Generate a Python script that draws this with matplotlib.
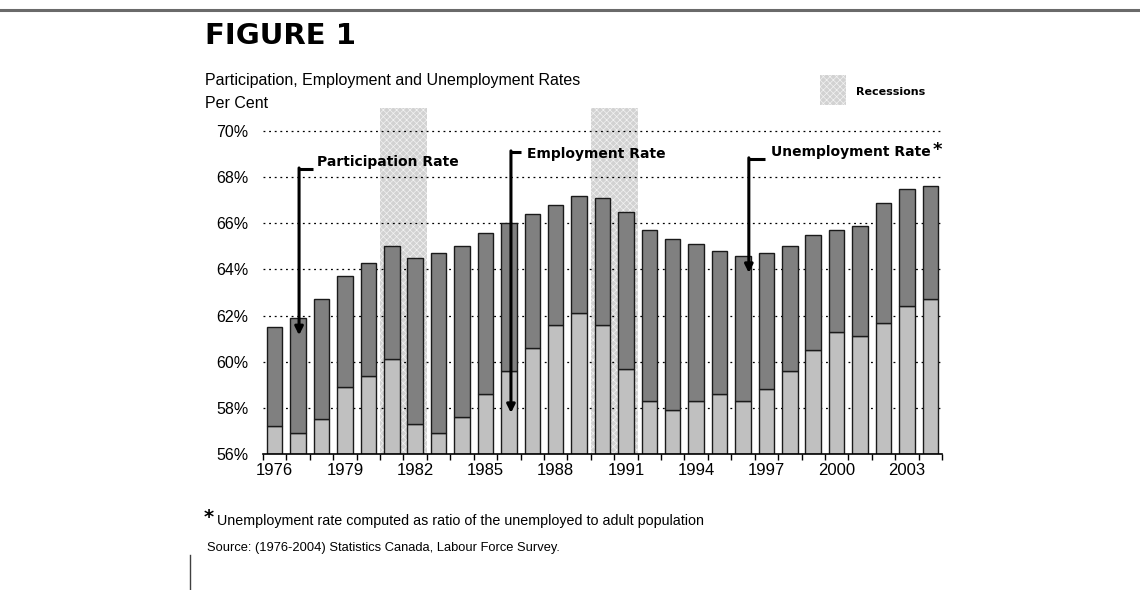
import matplotlib
matplotlib.use("Agg")
import matplotlib.pyplot as plt
from matplotlib.patches import Rectangle
from matplotlib.lines import Line2D

# ---- data ----
years = list(range(1976, 2005))
participation = [61.5, 61.9, 62.7, 63.7, 64.3, 65.0, 64.5, 64.7, 65.0, 65.6,
                 66.0, 66.4, 66.8, 67.2, 67.1, 66.5, 65.7, 65.3, 65.1, 64.8,
                 64.6, 64.7, 65.0, 65.5, 65.7, 65.9, 66.9, 67.5, 67.6]
employment = [57.2, 56.9, 57.5, 58.9, 59.4, 60.1, 57.3, 56.9, 57.6, 58.6,
              59.6, 60.6, 61.6, 62.1, 61.6, 59.7, 58.3, 57.9, 58.3, 58.6,
              58.3, 58.8, 59.6, 60.5, 61.3, 61.1, 61.7, 62.4, 62.7]
recessions = [(1981, 1982), (1990, 1991)]
y_ticks = [56, 58, 60, 62, 64, 66, 68, 70]
label_years = list(range(1976, 2004, 3))

plt.rcParams['hatch.linewidth'] = 0.5
AR = "Liberation Sans"
BOLD = "DejaVu Sans"

fig = plt.figure(figsize=(11.4, 5.9), dpi=100)
ax = fig.add_axes([263/1140, 1-454/590, (942-263)/1140, (454-108)/590])

idx = list(range(len(years)))
base = 56
shade_fc = "#d2d2d2"
shade_hc = "#f2f2f2"

# recession bands
for a, b in recessions:
    ax.axvspan(years.index(a) - 0.5, years.index(b) + 0.5, facecolor=shade_fc,
               edgecolor=shade_hc, hatch="xxxxx", lw=0, zorder=0)

# grid
for t in y_ticks[1:]:
    ax.axhline(t, color="black", lw=0.9, ls=(0, (1.5, 3)), zorder=1)

# bars
emp_h = [e - base for e in employment]
gap_h = [p - e for p, e in zip(participation, employment)]
ax.bar(idx, emp_h, bottom=base, width=0.66, color="#c0c0c0",
       edgecolor="#1a1a1a", lw=1.0, zorder=2)
ax.bar(idx, gap_h, bottom=employment, width=0.66, color="#808080",
       edgecolor="#1a1a1a", lw=1.0, zorder=2)

ax.set_xlim(-0.5, len(years) - 0.5)
ax.set_ylim(56, 71)
ax.set_yticks(y_ticks)
ax.set_yticklabels([f"{t}%" for t in y_ticks], fontsize=11.5, family=AR)
ax.tick_params(axis="y", length=0, pad=10.5)
ax.set_xticks([years.index(y) for y in label_years])
ax.set_xticklabels([str(y) for y in label_years], fontsize=12, family=AR)
ax.set_xticks([i - 0.5 for i in range(len(years) + 1)], minor=True)
ax.tick_params(axis="x", which="major", length=0, pad=6.5)
ax.tick_params(axis="x", which="minor", length=4.5, width=1, color="black")
for s in ["left", "right", "top"]:
    ax.spines[s].set_visible(False)
ax.spines["bottom"].set_linewidth(1.2)
ax.spines["bottom"].set_zorder(5)
ax.patch.set_visible(False)

# arrows with elbow
def elbow(xv, ytop, xh, ytip, text, tx, ty):
    ax.plot([xv, xh], [ytop, ytop], color="black", lw=2.2, zorder=6,
            solid_capstyle="butt")
    ax.annotate("", xy=(xv, ytip), xytext=(xv, ytop + 0.05),
                arrowprops=dict(arrowstyle="-|>", lw=2.2, color="black",
                                mutation_scale=12, shrinkA=0, shrinkB=0),
                zorder=6)
    return ax.text(tx, ty, text, fontsize=10, fontweight="bold", family=BOLD,
                   va="center", ha="left", zorder=7)

elbow(1.04, 68.35, 1.64, 61.15, "Participation Rate", 1.8, 68.66)
elbow(10.09, 69.09, 10.52, 57.78, "Employment Rate", 10.76, 69.02)
t3 = elbow(20.25, 68.79, 20.93, 63.85, "Unemployment Rate", 21.2, 69.09)
ax.annotate("*", xy=(1, 1), xycoords=t3, xytext=(1.5, 3),
            textcoords="offset points", fontsize=13, fontweight="bold",
            family=BOLD, va="top", ha="left")

# titles
fig.text(205/1140, 1-36/590, "FIGURE 1", fontsize=21, fontweight="heavy",
         family=BOLD, va="center", ha="left")
fig.text(205/1140, 1-80/590, "Participation, Employment and Unemployment Rates",
         fontsize=11.5, family=AR, va="center", ha="left")
fig.text(205/1140, 1-104/590, "Per Cent", fontsize=11.5, family=AR,
         va="center", ha="left")

# legend
fig.patches.append(Rectangle((820/1140, 1-105/590), 26/1140, 30/590,
                             transform=fig.transFigure, facecolor=shade_fc,
                             edgecolor=shade_hc, hatch="xxxxx", lw=0))
fig.text(856/1140, 1-92/590, "Recessions", fontsize=8, fontweight="bold",
         family=BOLD, va="center", ha="left")

# footnotes
fig.text(204/1140, 1-517/590, "*", fontsize=14, fontweight="bold",
         family=BOLD, va="center", ha="left")
fig.text(217/1140, 1-521/590,
         "Unemployment rate computed as ratio of the unemployed to adult population",
         fontsize=10.3, family=AR, va="center", ha="left")
fig.text(207/1140, 1-548/590,
         "Source: (1976-2004) Statistics Canada, Labour Force Survey.",
         fontsize=9.3, family=AR, va="center", ha="left")

# frame lines
fig.add_artist(Line2D([0, 1], [1-10/590, 1-10/590], transform=fig.transFigure,
                      color="#6a6a6a", lw=2.2))
fig.add_artist(Line2D([190/1140, 190/1140], [0, 1-555/590],
                      transform=fig.transFigure, color="#404040", lw=1))

fig.savefig("out.png", dpi=100)
